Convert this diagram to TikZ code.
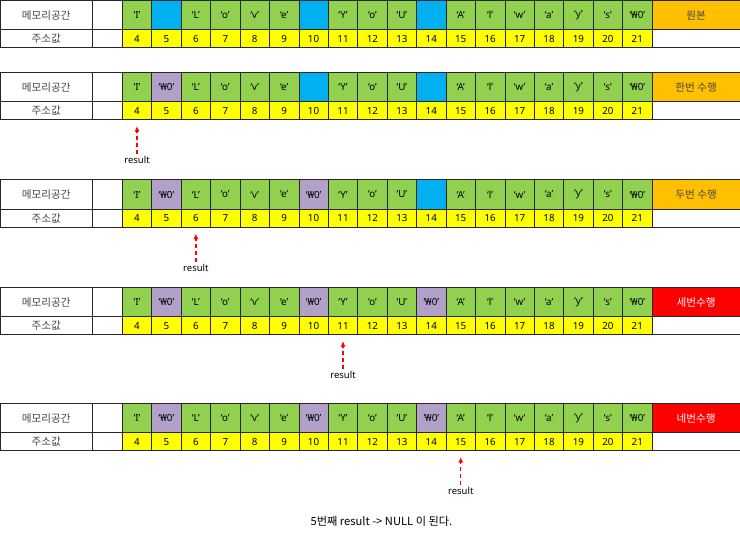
\documentclass[tikz,border=0pt]{standalone}
\usepackage{fontspec}
\setmainfont{Noto Sans}
\newfontfamily\krfont{Noto Sans CJK KR}
\usepackage{tikz}
\usetikzlibrary{arrows.meta, positioning}
\usepackage{xcolor}
\definecolor{cellgreen}{RGB}{146,208,80}
\definecolor{gapblue}{RGB}{0,176,240}
\definecolor{nulpurple}{RGB}{177,160,199}
\definecolor{addryellow}{RGB}{255,255,0}
\definecolor{runorange}{RGB}{255,192,0}
\definecolor{runred}{RGB}{255,0,0}
\definecolor{labelgray}{RGB}{70,70,70}

\tikzset{
  box/.style={draw=black!85, line width=0.6pt, anchor=north west, inner sep=0pt,
    minimum width=29.43pt, font=\fontsize{9.8}{11}\selectfont},
  chr/.style={box, fill=cellgreen, minimum height=29.5pt},
  gap/.style={chr, fill=gapblue, node contents={}},
  nul/.style={chr, fill=nulpurple, node contents={‘₩0’}},
  addr/.style={box, fill=addryellow, minimum height=18pt},
  memhead/.style={box, fill=white, text=labelgray, minimum width=92pt,
    font=\krfont\fontsize{10.6}{12}\selectfont},
  spare/.style={box, fill=white, minimum width=30pt},
  runwait/.style={box, fill=runorange, text=labelgray, minimum width=88.3pt,
    minimum height=29.5pt, font=\krfont\fontsize{10.6}{12}\selectfont},
  runstop/.style={runwait, fill=runred, text=white},
  resnote/.style={inner sep=1pt, font=\fontsize{9.5}{11}\selectfont},
  resarrow/.style={-{Latex[length=5.5pt,width=5pt]}, runred, line width=1.3pt,
    dash pattern=on 4pt off 3pt, shorten >=6pt, shorten <=1pt}
}

\begin{document}
\begin{tikzpicture}[x=1pt, y=-1pt]
  \useasboundingbox (0,0) rectangle (740,534);
  % one block per pass of the loop
  \foreach \b/\top/\lab/\labsty/\sa/\sb/\sc in {
      1/0/원본/runwait/gap/gap/gap,
      2/72/한번 수행/runwait/nul/gap/gap,
      3/179.5/두번 수행/runwait/nul/nul/gap,
      4/287/세번수행/runstop/nul/nul/nul,
      5/403/네번수행/runstop/nul/nul/nul} {
    \pgfmathsetmacro\mid{\top+29.5}
    \node[memhead, minimum height=29.5pt] (h\b) at (0,\top) {메모리공간};
    \node[memhead, minimum height=18pt] (k\b) at (0,\mid) {주소값};
    \node[spare, minimum height=29.5pt] (e\b) at (92,\top) {};
    \node[spare, minimum height=18pt] (f\b) at (92,\mid) {};
    \foreach \adr/\ch in {4/‘I’, 6/‘L’, 7/‘o’, 8/‘v’, 9/‘e’, 11/‘Y’, 12/‘o’, 13/‘U’,
        15/‘A’, 16/‘l’, 17/‘w’, 18/‘a’, 19/‘y’, 20/‘s’, 21/‘₩0’} {
      \node[chr] (m\b-\adr) at ({122+(\adr-4)*29.43},\top) {\ch};
    }
    \node (m\b-5) at ({122+1*29.43},\top) [\sa];
    \node (m\b-10) at ({122+6*29.43},\top) [\sb];
    \node (m\b-14) at ({122+10*29.43},\top) [\sc];
    \foreach \adr in {4,...,21} {
      \node[addr] (a\b-\adr) at ({122+(\adr-4)*29.43},\mid) {\adr};
    }
    \node[\labsty] (s\b) at (651.7,\top) {\lab};
    \node[spare, minimum width=88.3pt, minimum height=18pt] (t\b) at (651.7,\mid) {};
  }
  % where result points after each pass
  \foreach \b/\adr in {2/4, 3/6, 4/11, 5/15} {
    \node[resnote, below=35pt of a\b-\adr] (r\b) {result};
    \draw[resarrow] (r\b) -- (a\b-\adr);
  }
  \node[font=\krfont\fontsize{11.2}{13}\selectfont] (note) at (381.5,521)
    {5번째 result -> NULL 이 된다.};
\end{tikzpicture}
\end{document}
